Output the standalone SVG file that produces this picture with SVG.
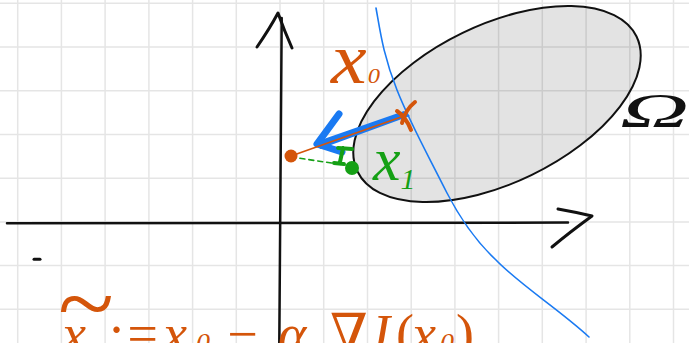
<svg xmlns="http://www.w3.org/2000/svg" width="689" height="343" viewBox="0 0 689 343">
<defs>
<style>
.grid line{stroke:#e5e5e5;stroke-width:1.5}
.ink{fill:none;stroke:#111;stroke-linecap:round;stroke-linejoin:round}
.orange{fill:#d4550a}
.ostroke{fill:none;stroke:#d4550a;stroke-linecap:round;stroke-linejoin:round}
.green{fill:#15a015}
.gstroke{fill:none;stroke:#15a015;stroke-linecap:round;stroke-linejoin:round}
.bstroke{fill:none;stroke:#1a7af2;stroke-linecap:round;stroke-linejoin:round}
.hand{font-family:"Liberation Serif","DejaVu Serif",serif;font-style:italic}
</style>
</defs>
<rect width="689" height="343" fill="#ffffff"/>
<g id="grid" class="grid">
<line x1="17.7" y1="0" x2="17.7" y2="343"/><line x1="61.4" y1="0" x2="61.4" y2="343"/><line x1="105.1" y1="0" x2="105.1" y2="343"/><line x1="148.9" y1="0" x2="148.9" y2="343"/><line x1="192.6" y1="0" x2="192.6" y2="343"/><line x1="236.3" y1="0" x2="236.3" y2="343"/><line x1="280" y1="0" x2="280" y2="343"/><line x1="323.7" y1="0" x2="323.7" y2="343"/><line x1="367.5" y1="0" x2="367.5" y2="343"/><line x1="411.2" y1="0" x2="411.2" y2="343"/><line x1="454.9" y1="0" x2="454.9" y2="343"/><line x1="498.6" y1="0" x2="498.6" y2="343"/><line x1="542.3" y1="0" x2="542.3" y2="343"/><line x1="586.1" y1="0" x2="586.1" y2="343"/><line x1="629.8" y1="0" x2="629.8" y2="343"/><line x1="673.5" y1="0" x2="673.5" y2="343"/>
<line x1="0" y1="3.3" x2="689" y2="3.3"/><line x1="0" y1="47" x2="689" y2="47"/><line x1="0" y1="90.7" x2="689" y2="90.7"/><line x1="0" y1="134.5" x2="689" y2="134.5"/><line x1="0" y1="178.2" x2="689" y2="178.2"/><line x1="0" y1="221.9" x2="689" y2="221.9"/><line x1="0" y1="265.6" x2="689" y2="265.6"/><line x1="0" y1="309.3" x2="689" y2="309.3"/>
</g>
<g id="axes">
<path class="ink" stroke-width="2.5" d="M7 223.3 L568 222.6"/>
<path class="ink" stroke-width="3" d="M558 209 Q575 212 592 216 Q570 232 552 247"/>
<path class="ink" stroke-width="2.5" d="M281.7 18 L279.3 343"/>
<path class="ink" stroke-width="3" d="M257 47 Q270 28 278 13 Q284 30 292 48"/>
<path class="ink" stroke-width="3" d="M34 259.3 L40 259.3"/>
</g>
<g id="region">
<ellipse cx="497" cy="104" rx="155" ry="79" transform="rotate(-25.8 497 104)" fill="#000" fill-opacity="0.11" stroke="#111" stroke-width="2"/>
<text class="hand" x="620" y="127" font-size="48" font-style="normal" textLength="69" lengthAdjust="spacingAndGlyphs" fill="#111">Ω</text>
</g>
<g id="level-curve">
<path class="bstroke" stroke-width="1.6" d="M376 8 C380 30 383 55 397 90 C410 123 427 153 447 193 C462 222 480 245 496 260 C520 285 560 310 589 337"/>
</g>
<g id="connectors">
<path class="gstroke" stroke-width="1.6" stroke-dasharray="5 4" d="M291 157 L345 165"/>
<path fill="#1a7af2" d="M318 141 L404 111 L410 116 L320 149 Z"/>
<path class="bstroke" stroke-width="7" d="M339 114 L317 144 L342 152"/>
<path class="ostroke" stroke-width="1.8" d="M291 156 L404 116"/>
</g>
<g id="x0">
<circle class="orange" cx="291" cy="156" r="6.5"/>
<path class="ostroke" stroke-width="4" d="M415 102 Q405 110 402 123 M397 111 Q406 117 411 130"/>
<text class="hand orange" x="331" y="83" font-size="72" textLength="49" lengthAdjust="spacingAndGlyphs">x<tspan font-size="22" dx="1">0</tspan></text>
</g>
<g id="x1">
<circle class="green" cx="352" cy="168" r="7"/>
<path class="gstroke" stroke-width="4" d="M338 148 L352 149 M343 148 L340 162 M334 163 L344 164"/>
<text class="hand green" x="373" y="180" font-size="62">x<tspan font-size="30" dx="0" dy="9">1</tspan></text>
</g>
<g id="formula" class="hand orange">
<text x="58" y="335" font-size="96" font-style="normal" textLength="56" lengthAdjust="spacingAndGlyphs">~</text>
<text y="352" font-size="54"><tspan x="62">x</tspan><tspan x="106">:=</tspan><tspan x="163">x</tspan><tspan x="196" font-size="28">0</tspan><tspan x="224">−</tspan><tspan x="278">α</tspan><tspan x="330" font-style="normal">∇</tspan><tspan x="366">J</tspan><tspan x="396" font-style="normal">(</tspan><tspan x="412">x</tspan><tspan x="440" font-size="28">0</tspan><tspan x="456" font-style="normal">)</tspan></text>
</g>
</svg>
